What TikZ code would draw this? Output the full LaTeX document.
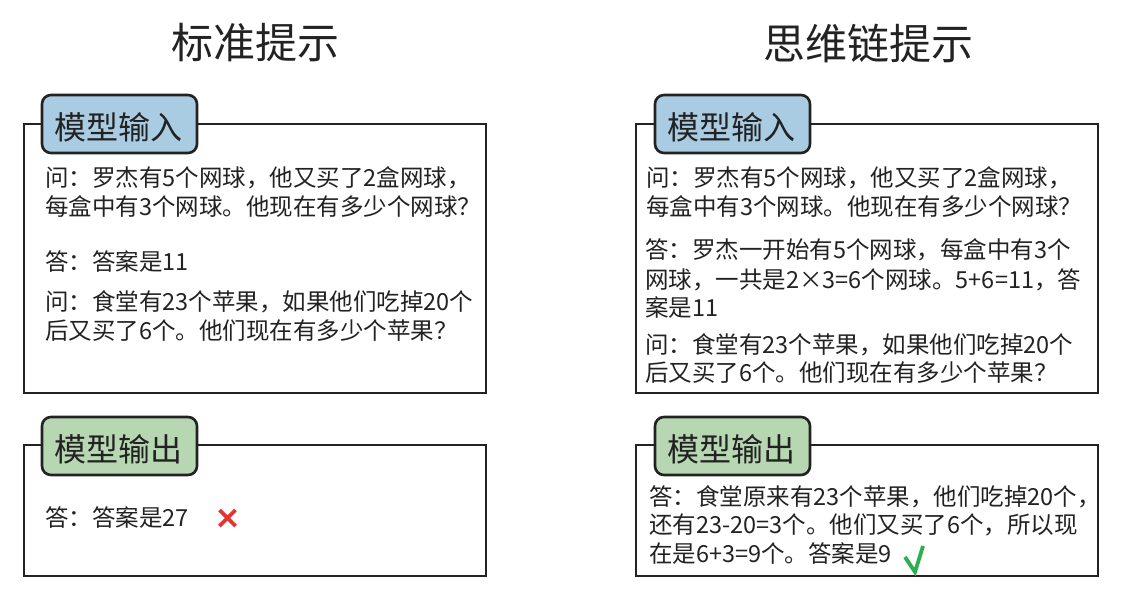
\documentclass[tikz,border=0pt]{standalone}
\usepackage{fontspec}
\setmainfont{Noto Sans CJK SC}
\definecolor{ink}{HTML}{222222}
\definecolor{tabblue}{HTML}{A9CCE3}
\definecolor{tabgreen}{HTML}{B6D7B1}
\definecolor{crossred}{HTML}{E8322F}
\definecolor{checkgreen}{HTML}{2DAE4F}
\tikzset{
  frame/.style={draw=ink, line width=2.6pt, fill=white},
  tabbox/.style={draw=ink, line width=2.6pt, rounded corners=9pt},
  tabtext/.style={inner sep=0pt, text=ink, font=\fontsize{32}{36}\selectfont},
  title/.style={inner sep=0pt, text=ink, font=\fontsize{42}{46}\selectfont},
  ln/.style={anchor=west, inner sep=0pt, text=ink, text height=0.83em, text depth=0.07em,
             yshift=-4.5pt, font=\fontsize{23.5}{28}\selectfont},
  markx/.style={draw=crossred, line width=3.6pt},
  markv/.style={draw=checkgreen, line width=3.8pt, line join=miter},
}
\begin{document}
\begin{tikzpicture}[x=1pt,y=-1pt]
\useasboundingbox (0,0) rectangle (1124,600);
% titles
\node[title] (t1) at (255,43) {标准提示};
\node[title] (t2) at (868,43) {思维链提示};
% left input
\draw[frame] (24,124) rectangle (486,393);
\draw[tabbox, fill=tabblue] (42,95) rectangle (197,153);
\node[tabtext] (lin) at (118,127) {模型输入};
\node[ln] (l1) at (45,178) {问：罗杰有5个网球，他又买了2盒网球，};
\node[ln] (l2) at (45,207) {每盒中有3个网球。他现在有多少个网球？};
\node[ln] (l3) at (45,262) {答：答案是11};
\node[ln] (l4) at (45,302) {问：食堂有23个苹果，如果他们吃掉20个};
\node[ln] (l5) at (45,331) {后又买了6个。他们现在有多少个苹果？};
% left output
\draw[frame] (24,445) rectangle (486,576);
\draw[tabbox, fill=tabgreen] (42,417) rectangle (197,475);
\node[tabtext] (lout) at (118,449) {模型输出};
\node[ln] (lo1) at (45,518) {答：答案是27};
\coordinate (xc) at (227.5,518);
\draw[markx] ([shift={(-8,-8)}]xc) -- ([shift={(8,8)}]xc);
\draw[markx] ([shift={(-8,8)}]xc) -- ([shift={(8,-8)}]xc);
% right input
\draw[frame] (636,124) rectangle (1098,393);
\draw[tabbox, fill=tabblue] (655,95) rectangle (810,153);
\node[tabtext] (rin) at (731,127) {模型输入};
\node[ln] (r1) at (646,178) {问：罗杰有5个网球，他又买了2盒网球，};
\node[ln] (r2) at (646,207) {每盒中有3个网球。他现在有多少个网球？};
\node[ln] (r3) at (645,250) {答：罗杰一开始有5个网球，每盒中有3个};
\node[ln] (r4) at (645,280) {网球，一共是2×3=6个网球。5+6=11，答};
\node[ln] (r5) at (645,308) {案是11};
\node[ln] (r6) at (645,345) {问：食堂有23个苹果，如果他们吃掉20个};
\node[ln] (r7) at (645,373) {后又买了6个。他们现在有多少个苹果？};
% right output
\draw[frame] (636,445) rectangle (1098,576);
\draw[tabbox, fill=tabgreen] (655,417) rectangle (810,475);
\node[tabtext] (rout) at (731,449) {模型输出};
\node[ln] (ro1) at (649,497) {答：食堂原来有23个苹果，他们吃掉20个，};
\node[ln] (ro2) at (649,525) {还有23-20=3个。他们又买了6个，所以现};
\node[ln] (ro3) at (649,554) {在是6+3=9个。答案是9};
\coordinate (vc) at (914,560);
\draw[markv] ([shift={(-9,-3)}]vc) -- ([shift={(1,12)}]vc) -- ([shift={(9,-14)}]vc);
\end{tikzpicture}
\end{document}
